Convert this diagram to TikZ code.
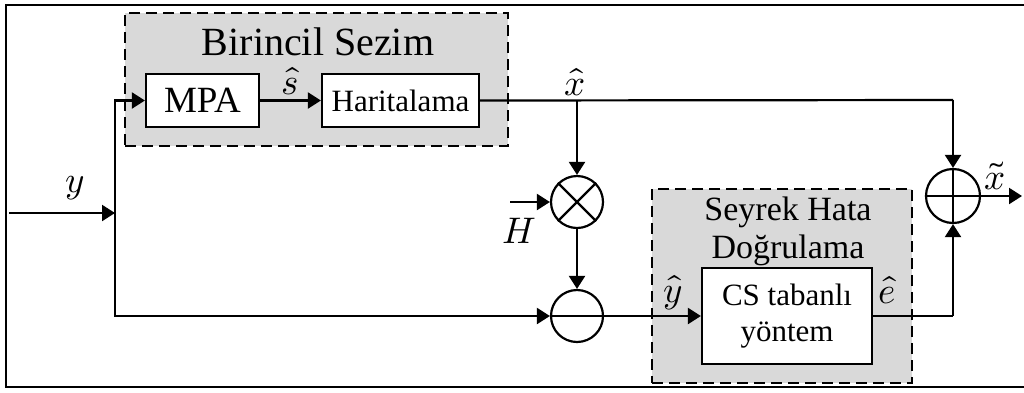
\documentclass[tikz,border=0pt]{standalone}
\usepackage{fontspec}
\usepackage{unicode-math}
\setmainfont{Liberation Serif}
\setmathfont{Latin Modern Math}
\usetikzlibrary{arrows.meta}
\definecolor{boxgray}{RGB}{217,217,217}
\tikzset{
  ln/.style={line width=2.2pt},
  arr/.style={ln, -{Triangle[length=13pt,width=16pt]}},
  grp/.style={draw, line width=2.2pt, dash pattern=on 11pt off 6pt, fill=boxgray},
  blk/.style={draw, line width=2.2pt, fill=white, rectangle, inner sep=0pt},
  op/.style={draw, line width=2.2pt, circle, minimum size=52pt, inner sep=0pt, fill=white},
  mth/.style={font=\fontsize{37}{39}\selectfont, inner sep=0pt},
}
\begin{document}
\begin{tikzpicture}[x=1pt,y=-1pt]
\useasboundingbox (0,0) rectangle (1024,392);
% frame
\draw[line width=2.5pt] (1024,5) -- (6,5) -- (6,387) -- (1024,387);
% groups
\node[grp, minimum width=383pt, minimum height=133pt, anchor=north west] (g1) at (124,12) {};
\node[font=\fontsize{40}{42}\selectfont, inner sep=0pt] (t1) at (318,42) {Birincil Sezim};
\node[grp, minimum width=260pt, minimum height=194pt, anchor=north west] (g2) at (651,188) {};
\node[font=\fontsize{34}{36}\selectfont, inner sep=0pt] (t2) at (788,212) {Seyrek Hata};
\node[font=\fontsize{34}{36}\selectfont, inner sep=0pt] (t3) at (788,250) {Doğrulama};
% blocks
\node[blk, minimum width=113pt, minimum height=53pt, font=\fontsize{37}{39}\selectfont] (mpa) at (202.5,100.5) {MPA};
\node[blk, minimum width=157pt, minimum height=53pt, font=\fontsize{31}{33}\selectfont] (har) at (400.5,100.5) {Haritalama};
\node[blk, minimum width=170pt, minimum height=96pt, font=\fontsize{31}{36}\selectfont, align=center] (cs) at (787,316) {CS tabanlı\\yöntem};
% operators
\node[op] (mul) at (577,202) {};
\draw[ln] (mul.north west) -- (mul.south east) (mul.north east) -- (mul.south west);
\node[op] (sub) at (577,316) {};
\draw[ln] (sub.west) -- (sub.east);
\node[op, minimum size=54pt] (add) at (953,196) {};
\draw[ln] (add.north) -- (add.south) (add.west) -- (add.east);
% coordinates
\coordinate (yin) at (9,213);
\coordinate (ybr) at (115,213);
\coordinate (xbr) at (577,100);
\coordinate (xtop) at (953,100);
\coordinate (ebot) at (953,316);
\coordinate (hin) at (510,202);
\coordinate (xout) at (1022,196);
% connectors
\draw[arr] (yin) -- (ybr);
\draw[arr] (ybr) |- (mpa.west);
\draw[arr] (ybr) |- (sub.west);
\draw[arr] (mpa.east) -- (har.west);
\draw[ln] (har.east) -- (xtop);
\draw[arr] (xtop) -- (add.north);
\draw[arr] (xbr) -- (mul.north);
\draw[arr] (hin) -- (mul.west);
\draw[arr] (mul.south) -- (sub.north);
\draw[arr] (sub.east) -- (cs.west);
\draw[ln] (cs.east) -- (ebot);
\draw[arr] (ebot) -- (add.south);
\draw[arr] (add.east) -- (xout);
% labels
\node[mth] (ly) at (75,188) {$y$};
\node[mth] (ls) at (290,81) {$\hat{s}$};
\node[mth] (lx) at (575,82) {$\hat{x}$};
\node[mth] (lH) at (519,231) {$H$};
\node[mth] (lyh) at (673,293) {$\hat{y}$};
\node[mth] (le) at (887,290) {$\hat{e}$};
\node[mth] (lxt) at (995,176) {$\tilde{x}$};
\end{tikzpicture}
\end{document}
